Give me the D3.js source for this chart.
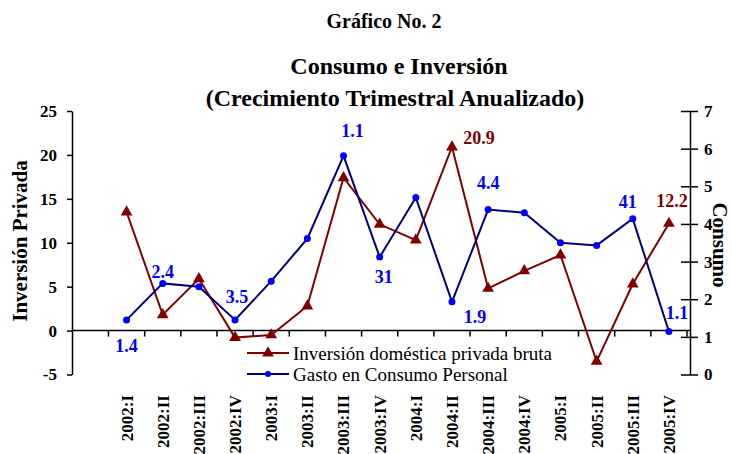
<!DOCTYPE html>
<html>
<head>
<meta charset="UTF-8">
<title>Consumo e Inversión</title>
<style>
  body { margin: 0; background: #fff; }
  svg { display: block; }
  svg text { font-family: "Liberation Serif", "Times New Roman", serif; }
</style>
</head>
<body>
<svg id="chart" width="732" height="454"></svg>
<script src="https://d3js.org/d3.v7.min.js"></script>
<script>

// categories (quarters)
var quarters = ["2002:I", "2002:II", "2002:III", "2002:IV", "2003:I", "2003:II", "2003:III", "2003:IV",
                "2004:I", "2004:II", "2004:III", "2004:IV", "2005:I", "2005:II", "2005:III", "2005:IV"];

// Inversión doméstica privada bruta (left axis)
var inversion = [13.5, 1.8, 5.9, -0.8, -0.5, 2.8, 17.4, 12.1, 10.3, 20.9, 4.8, 6.8, 8.6, -3.5, 5.3, 12.2];

// Gasto en Consumo Personal (right axis)
var consumo = [1.45, 2.42, 2.33, 1.45, 2.48, 3.61, 5.81, 3.12, 4.70, 1.93, 4.38, 4.30, 3.50, 3.43, 4.14, 1.14];

// tick labels
var leftTicks = [-5, 0, 5, 10, 15, 20, 25];
var rightTicks = [0, 1, 2, 3, 4, 5, 6, 7];

// value labels as printed on the chart
var consLabelIdx = [0, 1, 3, 6, 7, 9, 10, 14, 15];
var consLabelText = ["1.4", "2.4", "3.5", "1.1", "31", "1.9", "4.4", "41", "1.1"];
var invLabelIdx = [9, 15];
var invLabelText = ["20.9", "12.2"];

// label nudges (px) relative to the point
var consNudge = [[0, 26], [0, -12], [2, -23], [9, -25], [4, 20], [23, 15], [0, -27], [-5, -17], [8, -19]];
var invNudge = [[27, -9], [3, -23]];

var svg = d3.select("#chart");
var red = "#800000", navy = "#000080", blue = "#0000ff";

var x = d3.scaleBand().domain(quarters).range([108.5, 687]);
var yL = d3.scaleLinear().domain([-5, 25]).range([374.5, 111]);
var yR = d3.scaleLinear().domain([0, 7]).range([374.5, 111]);
var cx = function(i) { return x(quarters[i]) + x.bandwidth() / 2; };

// titles
svg.append("text").attr("x", 384).attr("y", 28).attr("text-anchor", "middle")
  .attr("font-weight", "bold").attr("font-size", 20).text("Gráfico No. 2");
svg.append("text").attr("x", 399).attr("y", 74).attr("text-anchor", "middle")
  .attr("font-weight", "bold").attr("font-size", 24).text("Consumo e Inversión");
svg.append("text").attr("x", 395).attr("y", 106).attr("text-anchor", "middle")
  .attr("font-weight", "bold").attr("font-size", 24).text("(Crecimiento Trimestral Anualizado)");

// left axis
var gL = svg.append("g").attr("transform", "translate(72,0)")
  .call(d3.axisLeft(yL).tickValues(leftTicks).tickFormat(function(d) { return String(d); })
    .tickSizeInner(5).tickSizeOuter(0).tickPadding(10));
gL.select(".domain").attr("stroke", "#000").attr("stroke-width", 1.5);
gL.selectAll(".tick line").attr("stroke-width", 1.5);
gL.selectAll(".tick text").attr("font-weight", "bold").attr("font-size", 17).attr("fill", "#000");

// right axis
var gR = svg.append("g").attr("transform", "translate(690,0)")
  .call(d3.axisRight(yR).tickValues(rightTicks).tickFormat(function(d) { return String(d); })
    .tickSizeInner(8).tickSizeOuter(0).tickPadding(6));
gR.select(".domain").attr("stroke-width", 1.5);
gR.selectAll(".tick line").attr("x1", -9).attr("stroke-width", 1.5);
gR.selectAll(".tick text").attr("font-weight", "bold").attr("font-size", 17).attr("fill", "#000");

// x axis along zero of left scale
var y0 = yL(0);
svg.append("line").attr("x1", 72).attr("x2", 690).attr("y1", y0).attr("y2", y0)
  .attr("stroke", "#000").attr("stroke-width", 1.5);
var edges = quarters.map(function(q) { return x(q); }).concat([x.range()[1]]);
svg.append("g").selectAll("line").data(edges).enter().append("line")
  .attr("x1", function(d) { return d; }).attr("x2", function(d) { return d; })
  .attr("y1", y0).attr("y2", y0 + 6)
  .attr("stroke", "#000").attr("stroke-width", 1.5);

svg.append("g").selectAll("text").data(quarters).enter().append("text")
  .attr("transform", function(d) { return "translate(" + (x(d) + x.bandwidth() / 2) + ",395) rotate(-90)"; })
  .attr("text-anchor", "end").attr("dy", "0.35em")
  .attr("font-weight", "bold").attr("font-size", 17)
  .text(function(d) { return d; });

// axis titles
svg.append("text").attr("transform", "translate(27,241) rotate(-90)").attr("text-anchor", "middle")
  .attr("font-weight", "bold").attr("font-size", 21).text("Inversión Privada");
svg.append("text").attr("transform", "translate(713,245) rotate(90)").attr("text-anchor", "middle")
  .attr("font-weight", "bold").attr("font-size", 21).text("Consumo");

// lines
var lineInv = d3.line().x(function(d, i) { return cx(i); }).y(function(d) { return yL(d); });
var lineCons = d3.line().x(function(d, i) { return cx(i); }).y(function(d) { return yR(d); });

svg.append("path").datum(inversion).attr("d", lineInv)
  .attr("fill", "none").attr("stroke", red).attr("stroke-width", 2);
svg.append("path").datum(consumo).attr("d", lineCons)
  .attr("fill", "none").attr("stroke", navy).attr("stroke-width", 2);

var tri = d3.symbol().type(d3.symbolTriangle).size(60);
svg.append("g").selectAll("path").data(inversion).enter().append("path")
  .attr("d", tri)
  .attr("transform", function(d, i) { return "translate(" + cx(i) + "," + yL(d) + ")"; })
  .attr("fill", red);
svg.append("g").selectAll("circle").data(consumo).enter().append("circle")
  .attr("cx", function(d, i) { return cx(i); }).attr("cy", function(d) { return yR(d); })
  .attr("r", 3.5).attr("fill", blue);

// value labels
svg.append("g").selectAll("text").data(consLabelIdx).enter().append("text")
  .attr("x", function(d, k) { return cx(d) + consNudge[k][0]; })
  .attr("y", function(d, k) { return yR(consumo[d]) + consNudge[k][1]; })
  .attr("dy", "0.35em").attr("text-anchor", "middle")
  .attr("font-weight", "bold").attr("font-size", 18).attr("fill", blue)
  .text(function(d, k) { return consLabelText[k]; });
svg.append("g").selectAll("text").data(invLabelIdx).enter().append("text")
  .attr("x", function(d, k) { return cx(d) + invNudge[k][0]; })
  .attr("y", function(d, k) { return yL(inversion[d]) + invNudge[k][1]; })
  .attr("dy", "0.35em").attr("text-anchor", "middle")
  .attr("font-weight", "bold").attr("font-size", 18).attr("fill", red)
  .text(function(d, k) { return invLabelText[k]; });

// legend
var legend = svg.append("g");
var legItems = [
  { name: "Inversión doméstica privada bruta", color: red, y: 353, sym: "tri" },
  { name: "Gasto en Consumo Personal", color: navy, y: 374, sym: "dot" }
];
legItems.forEach(function(it) {
  legend.append("line").attr("x1", 247).attr("x2", 289).attr("y1", it.y).attr("y2", it.y)
    .attr("stroke", it.color).attr("stroke-width", 2);
  if (it.sym === "tri") {
    legend.append("path").attr("d", tri).attr("transform", "translate(268," + it.y + ")").attr("fill", red);
  } else {
    legend.append("circle").attr("cx", 268).attr("cy", it.y).attr("r", 3).attr("fill", blue);
  }
  legend.append("text").attr("x", 293).attr("y", it.y).attr("dy", "0.35em")
    .attr("font-size", 19).attr("fill", "#000").text(it.name);
});

</script>
</body>
</html>
